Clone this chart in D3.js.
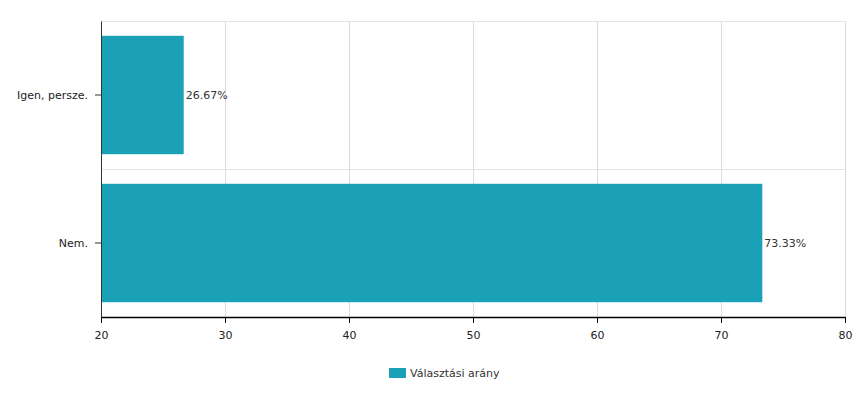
<!DOCTYPE html>
<html><head><meta charset="utf-8">
<script src="https://cdn.jsdelivr.net/npm/d3@7"></script>
<style>body{margin:0;background:#fff;font-family:"DejaVu Sans",Verdana,sans-serif;}</style>
</head><body><svg id="c" width="865" height="400"></svg>
<script>
const categories = ["Igen, persze.", "Nem."];
const values = [26.67, 73.33];
const xTicks = [20, 30, 40, 50, 60, 70, 80];
const seriesName = "Választási arány";
const color = "#1aa1b8";

const svg = d3.select("#c");
const m = {l:101, r:20, t:21, b:83};
const W = 865, H = 400;
const x = d3.scaleLinear().domain([20, 80]).range([m.l, W - m.r]);
const y = d3.scaleBand().domain(categories).range([m.t, H - m.b]).paddingInner(0.2).paddingOuter(0.1);
const font = "DejaVu Sans, Verdana, sans-serif";

// vertical grid
svg.append("g").selectAll("line").data(xTicks).join("line")
  .attr("x1", d => x(d)+0.5).attr("x2", d => x(d)+0.5)
  .attr("y1", m.t).attr("y2", H - m.b)
  .attr("stroke", "#dcdcdc");
// horizontal grid at band boundaries
const bounds = [m.t, ...categories.slice(1).map(c => y(c) - y.step()*y.paddingInner()/2)];
svg.append("g").selectAll("line").data(bounds).join("line")
  .attr("x1", m.l).attr("x2", W - m.r)
  .attr("y1", d => Math.round(d)+0.5).attr("y2", d => Math.round(d)+0.5)
  .attr("stroke", "#e4e4e4");

// bars
svg.append("g").selectAll("rect").data(values).join("rect")
  .attr("x", x(20)).attr("y", (d,i) => y(categories[i]))
  .attr("width", d => x(d) - x(20)).attr("height", y.bandwidth())
  .attr("fill", color);

// value labels
svg.append("g").selectAll("text").data(values).join("text")
  .attr("x", d => x(d) + 2).attr("y", (d,i) => y(categories[i]) + y.bandwidth()/2)
  .attr("dy", "0.35em").attr("font-size", 11).attr("font-family", font).attr("fill", "#333")
  .text(d => d.toFixed(2) + "%");

// x axis
const xa = svg.append("g").attr("transform", `translate(0,${H - m.b})`)
  .call(d3.axisBottom(x).tickValues(xTicks).tickSize(6).tickSizeOuter(0).tickPadding(8));
xa.select(".domain").attr("stroke", "#000").attr("stroke-width", 1.5);
xa.selectAll(".tick line").attr("stroke", "#000");
xa.selectAll("text").attr("font-size", 11).attr("font-family", font).attr("fill", "#222");

// y axis
const ya = svg.append("g").attr("transform", `translate(${m.l},0)`)
  .call(d3.axisLeft(y).tickSize(6).tickSizeOuter(0).tickPadding(7));
ya.select(".domain").attr("stroke", "#333");
ya.selectAll(".tick line").attr("stroke", "#333");
ya.selectAll("text").attr("font-size", 11).attr("font-family", font).attr("fill", "#222");

// legend
const lg = svg.append("g").attr("transform", "translate(389,368)");
lg.append("rect").attr("width", 17).attr("height", 10).attr("fill", color);
lg.append("text").attr("x", 21).attr("y", 5).attr("dy", "0.35em")
  .attr("font-size", 11).attr("font-family", font).attr("fill", "#333").text(seriesName);
</script></body></html>
